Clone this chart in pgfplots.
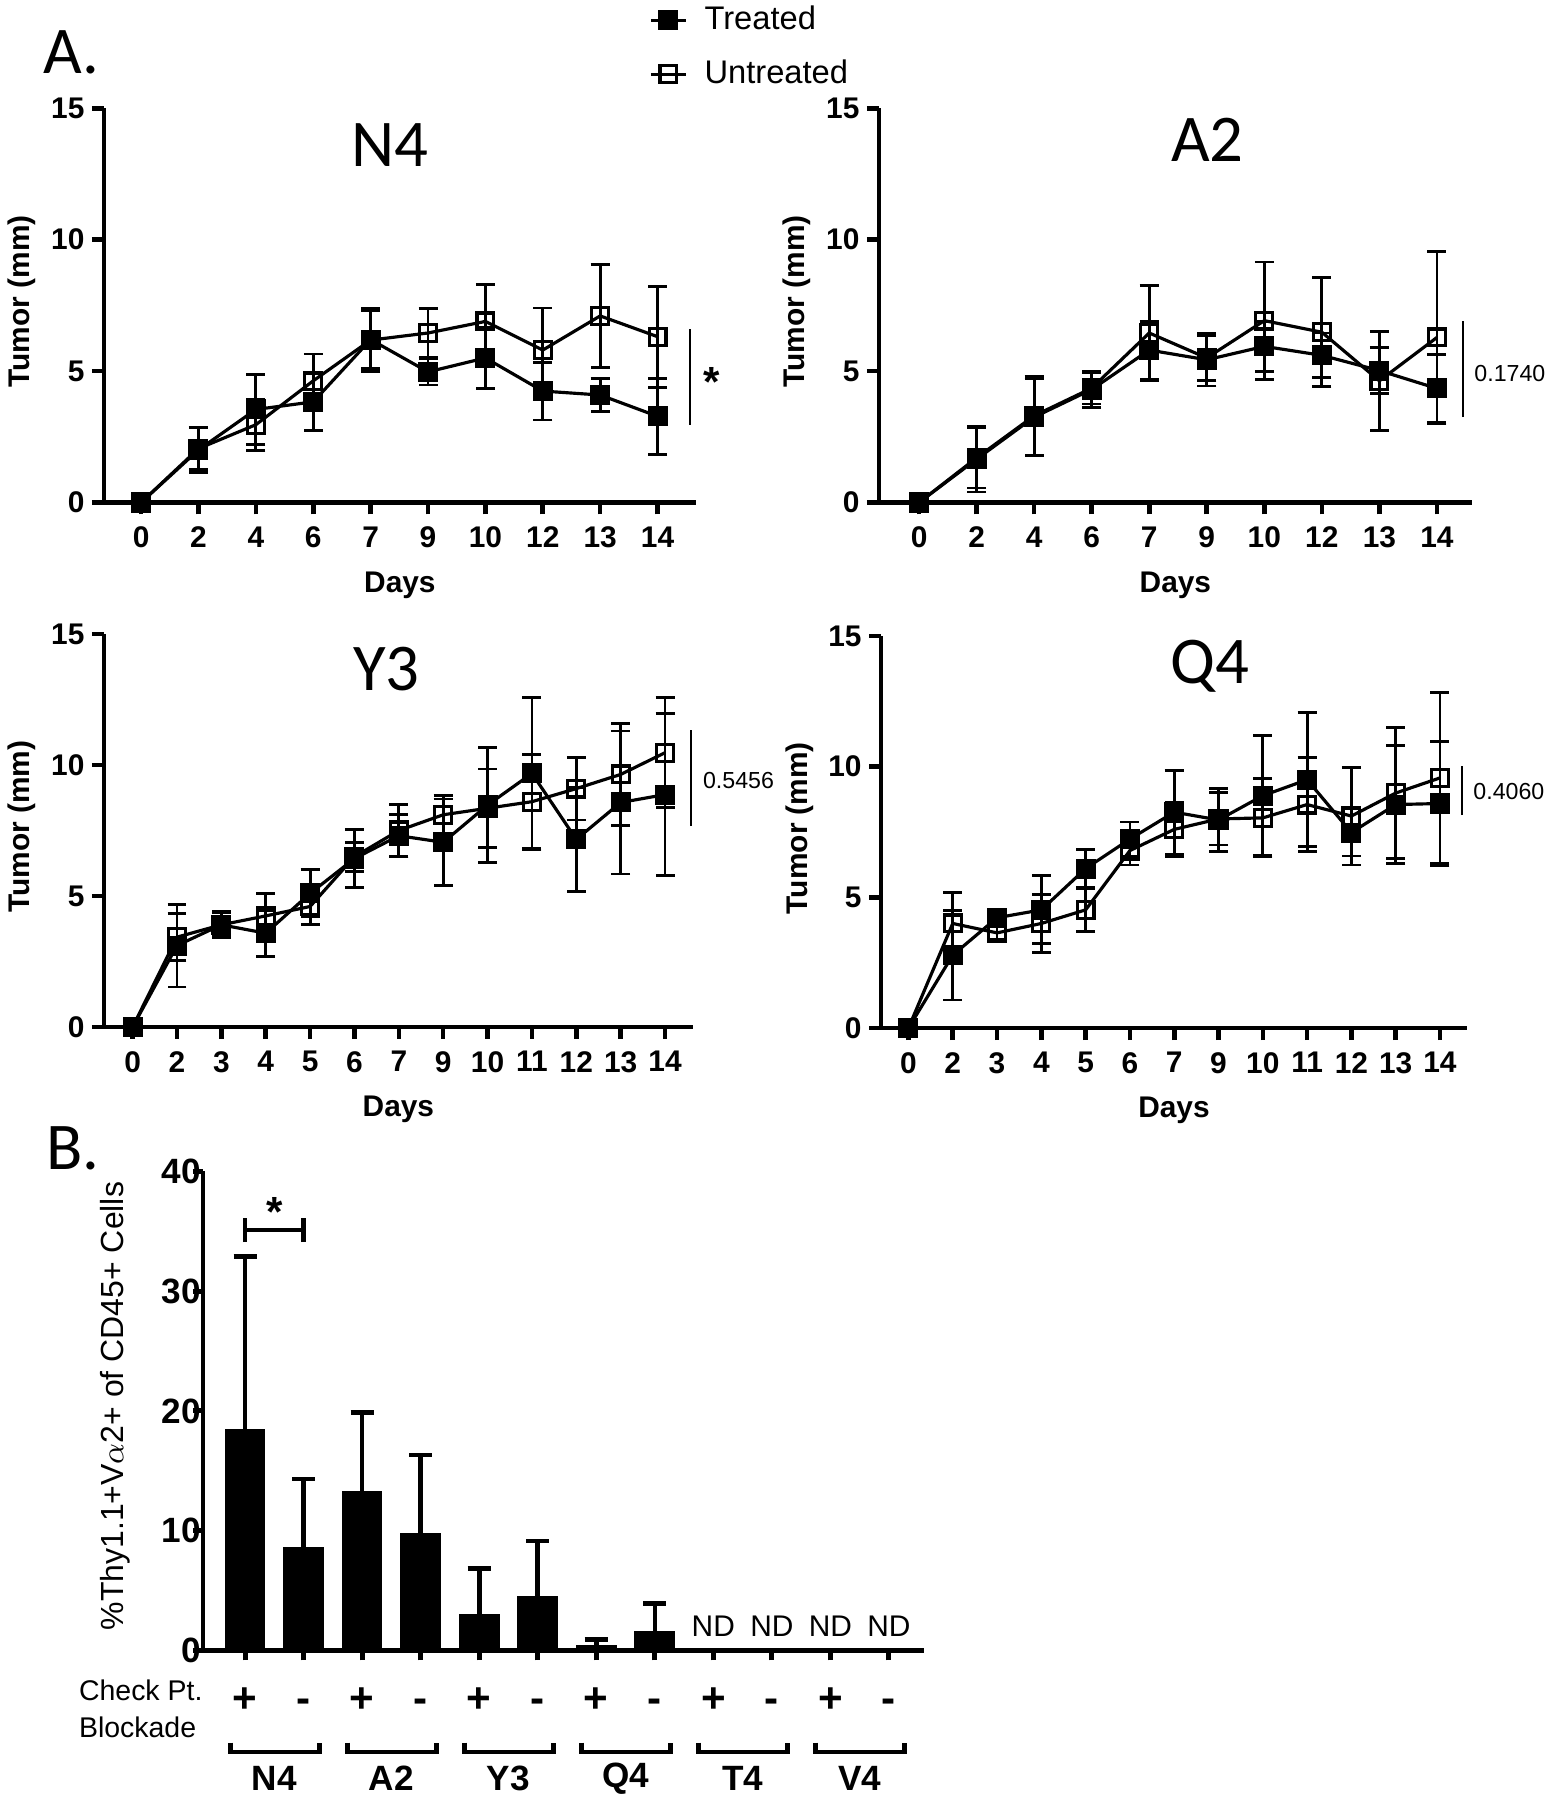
\documentclass[border=0pt]{standalone}
\usepackage{pgfplots}
\pgfplotsset{compat=1.18}
\usepackage{fontspec}
\setmainfont{Liberation Sans}
\newfontfamily\calibri{Carlito}
\newcommand\fs[1]{\fontsize{#1}{#1}\selectfont}

\pgfplotsset{
  tumor/.style={
    scale only axis,
    axis x line*=bottom, axis y line*=left,
    axis line style={line width=1.3pt,-},
    ymin=0, ymax=15, ytick={0,5,10,15},
    tick style={line width=1.3pt, black},
    major tick length=1.2mm, tick align=outside,
    clip=false,
    /pgf/number format/assume math mode=true,
    ticklabel style={font=\bfseries\fs{8.5}},
    xticklabel style={yshift=0mm},
    yticklabel style={xshift=0.5mm},
    xlabel={Days}, ylabel={Tumor (mm)},
    label style={font=\bfseries\fs{8.5}},
    xlabel style={at={(axis description cs:0.5,-0.21)},anchor=center},
    ylabel style={at={(axis description cs:-0.139,0.51)},anchor=center},
  },
  ser/.style={black, line width=0.9pt, mark size=2.4pt, mark options={solid, line width=0.9pt},
    error bars/y dir=both, error bars/y explicit,
    error bars/error bar style={line width=0.8pt,black},
    error bars/error mark options={rotate=90, mark size=2.7pt, line width=0.8pt, black}},
}
\tikzset{
  sig/.style={line width=0.6pt, black},
  pval/.style={font=\fs{6.6}, anchor=west, inner sep=0pt},
  brk/.style={line width=1.3pt, black},
  grp/.style={font=\bfseries\fs{10}},
  nd/.style={font=\fs{8.5}},
}

\begin{document}
\begin{tikzpicture}
\useasboundingbox (0,0) rectangle (15.5cm,18cm);

% ---------------- N4 ----------------
\begin{axis}[tumor, at={(1.038cm,12.975cm)}, anchor=south west,
  width=5.922cm, height=3.942cm, xmin=-0.65, xmax=9.67,
  xtick={0,...,9}, xticklabels={0,2,4,6,7,9,10,12,13,14},
  legend style={at={(axis description cs:0.92,1.28)}, anchor=north west, draw=none, fill=none,
    font=\fs{9.3}, row sep=1.1mm, inner sep=0pt},
  legend cell align=left,
  legend image code/.code={\draw[mark repeat=2,mark phase=2,#1] plot coordinates {(0cm,0cm) (0.175cm,0cm) (0.35cm,0cm)};},
]
\addplot[ser, mark=square*] coordinates {
 (0,0) +- (0,0) (1,2.0) +- (0,0.87) (2,3.54) +- (0,1.34) (3,3.83) +- (0,1.09) (4,6.2) +- (0,1.1)
 (5,4.97) +- (0,0.5) (6,5.5) +- (0,1.16) (7,4.24) +- (0,1.1) (8,4.09) +- (0,0.64) (9,3.28) +- (0,1.45)};
\addlegendentry{\hspace{1mm}Treated}
\addplot[ser, mark=square] coordinates {
 (0,0) +- (0,0) (1,2.05) +- (0,0.8) (2,2.96) +- (0,0.97) (3,4.63) +- (0,1.02) (4,6.18) +- (0,1.2)
 (5,6.45) +- (0,0.92) (6,6.89) +- (0,1.4) (7,5.8) +- (0,1.6) (8,7.1) +- (0,1.97) (9,6.31) +- (0,1.92)};
\addlegendentry{\hspace{1mm}Untreated}
\draw[sig] (axis cs:9.57,2.95) -- (axis cs:9.57,6.6);
\node[font=\bfseries\fs{12}] at (axis cs:9.95,4.6) {*};
\node[font=\calibri\fs{19}] at (axis description cs:0.483,0.907) {N4};
\end{axis}

% ---------------- A2 ----------------
\begin{axis}[tumor, at={(8.788cm,12.975cm)}, anchor=south west,
  width=5.932cm, height=3.942cm, xmin=-0.70, xmax=9.61,
  xtick={0,...,9}, xticklabels={0,2,4,6,7,9,10,12,13,14},
]
\addplot[ser, mark=square] coordinates {
 (0,0) +- (0,0) (1,1.7) +- (0,1.15) (2,3.3) +- (0,1.5) (3,4.35) +- (0,0.6) (4,6.45) +- (0,1.8)
 (5,5.5) +- (0,0.85) (6,6.92) +- (0,2.23) (7,6.48) +- (0,2.08) (8,4.63) +- (0,1.89) (9,6.28) +- (0,3.26)};
\addplot[ser, mark=square*] coordinates {
 (0,0) +- (0,0) (1,1.65) +- (0,1.25) (2,3.25) +- (0,1.45) (3,4.3) +- (0,0.7) (4,5.8) +- (0,1.1)
 (5,5.43) +- (0,1.0) (6,5.94) +- (0,0.95) (7,5.6) +- (0,0.85) (8,5.02) +- (0,0.88) (9,4.34) +- (0,1.3)};
\draw[sig] (axis cs:9.45,3.25) -- (axis cs:9.45,6.89);
\node[pval] at (axis cs:9.64,4.92) {0.1740};
\node[font=\calibri\fs{19}] at (axis description cs:0.554,0.92) {A2};
\end{axis}

% ---------------- Y3 ----------------
\begin{axis}[tumor, at={(1.038cm,7.73cm)}, anchor=south west,
  width=5.892cm, height=3.93cm, xmin=-0.65, xmax=12.63,
  xtick={0,...,12}, xticklabels={0,2,3,4,5,6,7,9,10,11,12,13,14},
]
\addplot[ser, mark=square] coordinates {
 (0,0) +- (0,0) (1,3.43) +- (0,0.9) (2,3.9) +- (0,0.45) (3,4.24) +- (0,0.87) (4,4.6) +- (0,0.7)
 (5,6.5) +- (0,0.55) (6,7.5) +- (0,1.0) (7,8.1) +- (0,0.75) (8,8.35) +- (0,1.5) (9,8.6) +- (0,1.8)
 (10,9.1) +- (0,1.2) (11,9.64) +- (0,1.95) (12,10.47) +- (0,2.1)};
\addplot[ser, mark=square*] coordinates {
 (0,0) +- (0,0) (1,3.11) +- (0,1.58) (2,3.9) +- (0,0.5) (3,3.58) +- (0,0.88) (4,5.1) +- (0,0.9)
 (5,6.43) +- (0,1.1) (6,7.3) +- (0,0.8) (7,7.05) +- (0,1.65) (8,8.47) +- (0,2.2) (9,9.68) +- (0,2.9)
 (10,7.16) +- (0,1.98) (11,8.57) +- (0,2.73) (12,8.87) +- (0,3.1)};
\draw[sig] (axis cs:12.59,7.67) -- (axis cs:12.59,11.32);
\node[pval] at (axis cs:12.84,9.42) {0.5456};
\node[font=\calibri\fs{19}] at (axis description cs:0.48,0.911) {Y3};
\end{axis}

% ---------------- Q4 ----------------
\begin{axis}[tumor, at={(8.81cm,7.72cm)}, anchor=south west,
  width=5.86cm, height=3.92cm, xmin=-0.62, xmax=12.61,
  xtick={0,...,12}, xticklabels={0,2,3,4,5,6,7,9,10,11,12,13,14},
]
\addplot[ser, mark=square] coordinates {
 (0,0) +- (0,0) (1,4.0) +- (0,1.2) (2,3.64) +- (0,0.25) (3,4.0) +- (0,1.1) (4,4.52) +- (0,0.83)
 (5,6.79) +- (0,0.55) (6,7.6) +- (0,1.05) (7,8.0) +- (0,1.0) (8,8.04) +- (0,1.5) (9,8.55) +- (0,1.8)
 (10,8.11) +- (0,1.87) (11,8.99) +- (0,2.5) (12,9.57) +- (0,3.28)};
\addplot[ser, mark=square*] coordinates {
 (0,0) +- (0,0) (1,2.79) +- (0,1.72) (2,4.22) +- (0,0.2) (3,4.52) +- (0,1.3) (4,6.1) +- (0,0.73)
 (5,7.23) +- (0,0.65) (6,8.26) +- (0,1.6) (7,7.96) +- (0,1.2) (8,8.89) +- (0,2.3) (9,9.5) +- (0,2.57)
 (10,7.48) +- (0,0.9) (11,8.55) +- (0,2.25) (12,8.59) +- (0,2.38)};
\draw[sig] (axis cs:12.49,8.15) -- (axis cs:12.49,10.01);
\node[pval] at (axis cs:12.74,9.06) {0.4060};
\node[font=\calibri\fs{19}] at (axis description cs:0.561,0.923) {Q4};
\end{axis}

% ---------------- B ----------------
\begin{axis}[at={(2.03cm,1.496cm)}, anchor=south west,
  scale only axis, width=7.21cm, height=4.79cm,
  axis x line*=bottom, axis y line*=left, axis line style={line width=1.4pt,-},
  xmin=-0.72, xmax=11.6, ymin=0, ymax=40, ytick={0,10,20,30,40},
  xtick={0,...,11}, xticklabels={+,-,+,-,+,-,+,-,+,-,+,-},
  tick style={line width=1.4pt,black}, major tick length=1mm, tick align=outside,
  clip=false,
  /pgf/number format/assume math mode=true,
  yticklabel style={font=\bfseries\fs{10}, inner sep=1pt, xshift=1.2mm},
  xticklabel style={font=\bfseries\fs{12}, text height=1.6ex, text depth=0pt, yshift=-1mm},
  ylabel={\%Thy1.1+V$\alpha$2+ of CD45+ Cells},
  ylabel style={font=\fs{9.1}, at={(axis description cs:-0.122,0.51)}, anchor=center},
]
\addplot[ybar, bar width=0.67, fill=black, draw=black,
  error bars/y dir=plus, error bars/y explicit,
  error bars/error bar style={line width=1.3pt,black},
  error bars/error mark options={rotate=90, mark size=3.3pt, line width=1.3pt, black}]
 coordinates {(0,18.45) +- (0,14.45) (1,8.6) +- (0,5.7) (2,13.27) +- (0,6.6) (3,9.73) +- (0,6.59)
  (4,3.02) +- (0,3.8) (5,4.47) +- (0,4.66) (6,0.41) +- (0,0.52) (7,1.53) +- (0,2.38)};
\draw[brk] (axis cs:0,34.1) -- (axis cs:0,36.1) (axis cs:0,35.1) -- (axis cs:1,35.1) (axis cs:1,34.1) -- (axis cs:1,36.1);
\node[font=\bfseries\fs{12}] at (axis cs:0.5,36.6) {*};
\node[nd] at (axis cs:8,2.0) {ND};
\node[nd] at (axis cs:9,2.0) {ND};
\node[nd] at (axis cs:10,2.0) {ND};
\node[nd] at (axis cs:11,2.0) {ND};
\node[font=\fs{8.1}, anchor=west, inner sep=0pt] at (axis cs:-2.85,-3.3) {Check Pt.};
\node[font=\fs{8.1}, anchor=west, inner sep=0pt] at (axis cs:-2.85,-6.4) {Blockade};
\draw[brk] (axis cs:-0.25,-7.7) -- (axis cs:-0.25,-8.5) -- (axis cs:1.27,-8.5) -- (axis cs:1.27,-7.7);
\draw[brk] (axis cs:1.75,-7.7) -- (axis cs:1.75,-8.5) -- (axis cs:3.27,-8.5) -- (axis cs:3.27,-7.7);
\draw[brk] (axis cs:3.75,-7.7) -- (axis cs:3.75,-8.5) -- (axis cs:5.27,-8.5) -- (axis cs:5.27,-7.7);
\draw[brk] (axis cs:5.75,-7.7) -- (axis cs:5.75,-8.5) -- (axis cs:7.27,-8.5) -- (axis cs:7.27,-7.7);
\draw[brk] (axis cs:7.75,-7.7) -- (axis cs:7.75,-8.5) -- (axis cs:9.27,-8.5) -- (axis cs:9.27,-7.7);
\draw[brk] (axis cs:9.75,-7.7) -- (axis cs:9.75,-8.5) -- (axis cs:11.27,-8.5) -- (axis cs:11.27,-7.7);
\node[grp] at (axis cs:0.5,-10.7) {N4};
\node[grp] at (axis cs:2.5,-10.7) {A2};
\node[grp] at (axis cs:4.5,-10.7) {Y3};
\node[grp] at (axis cs:6.5,-10.7) {Q4};
\node[grp] at (axis cs:8.5,-10.7) {T4};
\node[grp] at (axis cs:10.5,-10.7) {V4};
\end{axis}

\node[font=\calibri\fs{19}] at (0.71cm,17.48cm) {A.};
\node[font=\calibri\fs{19}] at (0.73cm,6.52cm) {B.};
\end{tikzpicture}
\end{document}
